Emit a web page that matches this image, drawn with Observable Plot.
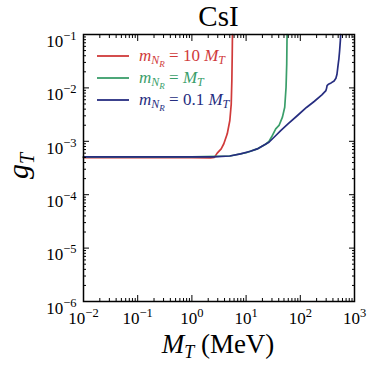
<!DOCTYPE html>
<html><head><meta charset="utf-8">
<script src="https://cdn.jsdelivr.net/npm/d3@7"></script>
<script src="https://cdn.jsdelivr.net/npm/@observablehq/plot@0.6"></script>
<style>body{margin:0;background:#fff}</style>
</head><body><div id="chart"></div>
<script>
// ---- data ----
const seriesNames = ["mNR = 10 MT", "mNR = MT", "mNR = 0.1 MT"];
const seriesColors = ["#d03a3a", "#3a9e6a", "#262d80"];

const redX = [0.01, 1, 2.2, 2.6, 2.93, 3.47, 3.88, 4.49, 5.01, 5.32, 5.46, 5.55, 5.6];
const redY = [4.95e-4, 4.95e-4, 4.9e-4, 5.0e-4, 6.0e-4, 7.2e-4, 9.0e-4, 1.38e-3, 2.45e-3, 5.0e-3, 1.38e-2, 4.35e-2, 0.1];

const greenX = [0.01, 1, 5, 10, 16, 22.9, 26.4, 29.3, 35.2, 40.5, 46.8, 51.6, 54.6, 56.2, 57];
const greenY = [5.1e-4, 5.1e-4, 5.3e-4, 6.1e-4, 7.2e-4, 8.8e-4, 9.9e-4, 1.19e-3, 1.71e-3, 1.98e-3, 2.83e-3, 4.35e-3, 1.03e-2, 2.83e-2, 0.1];

const blueX = [0.01, 1, 2.5, 5, 7.9, 12, 16.1, 20, 26.4, 35, 43.5, 60, 88.7, 130, 180, 250, 297, 305, 312, 330, 370, 420, 454, 475, 489, 505, 516, 530, 540, 550, 556];
const blueY = [5.1e-4, 5.1e-4, 5.1e-4, 5.3e-4, 5.8e-4, 6.5e-4, 7.2e-4, 8.2e-4, 9.6e-4, 1.27e-3, 1.59e-3, 2.15e-3, 3.04e-3, 4.3e-3, 5.56e-3, 7.4e-3, 8.9e-3, 9.8e-3, 1.1e-2, 1.17e-2, 1.24e-2, 1.35e-2, 1.52e-2, 1.8e-2, 2.3e-2, 3.0e-2, 3.55e-2, 4.8e-2, 6.2e-2, 8.0e-2, 0.1];

const xTicks = [1e-2, 1e-1, 1e0, 1e1, 1e2, 1e3];
const xTickExp = ["−2", "−1", "0", "1", "2", "3"];
const yTicks = [1e-6, 1e-5, 1e-4, 1e-3, 1e-2, 1e-1];
const yTickExp = ["−6", "−5", "−4", "−3", "−2", "−1"];
const minorMult = [2, 3, 4, 5, 6, 7, 8, 9];

// ---- build table ----
const seriesX = [redX, greenX, blueX];
const seriesY = [redY, greenY, blueY];
const data = [];
seriesNames.forEach((name, i) => {
  seriesX[i].forEach((x, j) => data.push({series: name, x, y: seriesY[i][j]}));
});
const minorOf = (ticks) => ticks.slice(0, -1).flatMap(t => minorMult.map(m => t * m));
const xMinor = minorOf(xTicks);
const yMinor = minorOf(yTicks);
const xFmt = d => "10^" + xTickExp[xTicks.indexOf(d)];
const yFmt = d => "10^" + yTickExp[yTicks.indexOf(d)];
const blank = () => "";

const plot = Plot.plot({
  width: 374, height: 368,
  marginLeft: 83, marginRight: 20, marginTop: 34, marginBottom: 67,
  style: {fontFamily: "'Liberation Serif', serif", fontSize: "17px", background: "white", color: "black"},
  x: {type: "log", domain: [1e-2, 1e3], label: null},
  y: {type: "log", domain: [1e-6, 1e-1], label: null},
  color: {domain: seriesNames, range: seriesColors},
  marks: [
    Plot.line(data, {x: "x", y: "y", z: "series", stroke: "series", strokeWidth: 1.7}),
    // major ticks (inward, all four sides)
    Plot.axisX({anchor: "bottom", ticks: xTicks, tickSize: -6, tickFormat: blank, label: null}),
    Plot.axisX({anchor: "top", ticks: xTicks, tickSize: -6, tickFormat: blank, label: null}),
    Plot.axisY({anchor: "left", ticks: yTicks, tickSize: -6, tickFormat: blank, label: null}),
    Plot.axisY({anchor: "right", ticks: yTicks, tickSize: -6, tickFormat: blank, label: null}),
    // minor ticks
    Plot.axisX({anchor: "bottom", ticks: xMinor, tickSize: -3, tickFormat: blank, label: null}),
    Plot.axisX({anchor: "top", ticks: xMinor, tickSize: -3, tickFormat: blank, label: null}),
    Plot.axisY({anchor: "left", ticks: yMinor, tickSize: -3, tickFormat: blank, label: null}),
    Plot.axisY({anchor: "right", ticks: yMinor, tickSize: -3, tickFormat: blank, label: null}),
    // tick labels
    Plot.axisX({anchor: "bottom", ticks: xTicks, tickSize: 0, tickPadding: 10, tickFormat: xFmt, label: null}),
    Plot.axisY({anchor: "left", ticks: yTicks, tickSize: 0, tickPadding: 7, tickFormat: yFmt, label: null}),
    Plot.frame({stroke: "black", strokeWidth: 1.5})
  ]
});
document.getElementById("chart").appendChild(plot);

const svg = d3.select(plot);
// superscript tick labels
svg.selectAll("text").each(function () {
  const t = this.textContent;
  const m = /^10\^(.+)$/.exec(t);
  if (!m) return;
  const s = d3.select(this);
  s.text(null);
  s.attr("font-size", 17);
  s.append("tspan").attr("font-size", 17).text("10");
  s.append("tspan").attr("font-size", 12.5).attr("dy", -7).text(m[1]);
});
// nudge y tick labels slightly down (label box centred on the tick)
svg.selectAll('g[aria-label="y-axis tick label"] text').attr("dy", "0.4em");

const serif = "'Liberation Serif', serif";
// title
svg.append("text").attr("x", 218.5).attr("y", 26).attr("text-anchor", "middle")
  .attr("font-family", serif).attr("font-size", 29).attr("fill", "black").text("CsI");
// x label
const xl = svg.append("text").attr("x", 218).attr("y", 353).attr("text-anchor", "middle")
  .attr("font-family", serif).attr("font-size", 27).attr("fill", "black");
xl.append("tspan").attr("font-style", "italic").text("M");
xl.append("tspan").attr("font-style", "italic").attr("font-size", 18).attr("dy", 5).text("T");
xl.append("tspan").attr("dy", -5).text(" (MeV)");
// y label
const yl = svg.append("text").attr("transform", "translate(28,166) rotate(-90)").attr("text-anchor", "middle")
  .attr("font-family", serif).attr("font-size", 30).attr("fill", "black");
yl.append("tspan").attr("font-style", "italic").text("g");
yl.append("tspan").attr("font-style", "italic").attr("font-size", 20).attr("dy", 6).text("T");

// legend
const legendRows = [
  {mult: "10 "},
  {mult: ""},
  {mult: "0.1 "}
];
legendRows.forEach((r, i) => {
  const cy = 56 + i * 22;
  svg.append("line").attr("x1", 97).attr("x2", 129).attr("y1", cy).attr("y2", cy)
    .attr("stroke", seriesColors[i]).attr("stroke-width", 1.8);
  const t = svg.append("text").attr("x", 139).attr("y", cy + 5).attr("text-anchor", "start")
    .attr("font-family", serif).attr("font-size", 17).attr("fill", seriesColors[i]);
  t.append("tspan").attr("font-style", "italic").text("m");
  t.append("tspan").attr("font-style", "italic").attr("font-size", 12).attr("dy", 3).text("N");
  t.append("tspan").attr("font-style", "italic").attr("font-size", 9).attr("dy", 2.5).text("R");
  t.append("tspan").attr("dy", -5.5).text(" = " + r.mult);
  t.append("tspan").attr("font-style", "italic").text("M");
  t.append("tspan").attr("font-style", "italic").attr("font-size", 12).attr("dy", 3).text("T");
});
</script>
</body></html>
